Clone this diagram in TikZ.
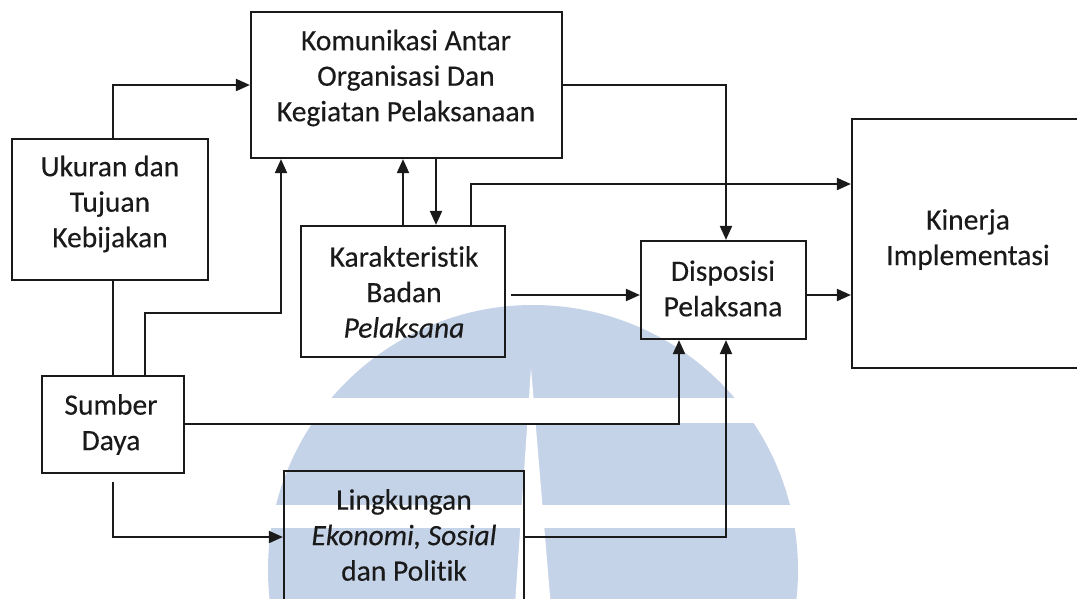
\documentclass[tikz,border=0pt]{standalone}
\usepackage{fontspec}
\setmainfont{Carlito}[Ligatures=NoCommon,FakeBold=0.3]
\usetikzlibrary{arrows.meta}
\definecolor{ink}{HTML}{1A1A1A}
\definecolor{seal}{RGB}{197,211,232}
\begin{document}
\begin{tikzpicture}[x=1pt,y=-1pt,
  box/.style={draw=ink,line width=2.2pt,inner sep=0pt},
  lbl/.style={text=ink,align=center,inner sep=0pt,
    font=\fontsize{29.5}{35.5}\selectfont},
  conn/.style={draw=ink,line width=2pt},
  arr/.style={conn,-{Triangle[length=14pt,width=12pt]}}]
\useasboundingbox (0,0) rectangle (1077,598);
\clip (0,0) rectangle (1077,598);
\fill[white] (0,0) rectangle (1077,598);

% background seal
\fill[seal] (533,570) circle[radius=265];
\fill[white] (200,398) rectangle (860,423);
\fill[white] (200,505) rectangle (860,528);
\fill[white] (531,368) -- (514,620) -- (552,620) -- cycle;

% boxes
\node[box,minimum width=311pt,minimum height=146pt] (komm) at (406.5,85) {};
\node[box,minimum width=196pt,minimum height=141pt] (ukuran) at (110,209.5) {};
\node[box,minimum width=204pt,minimum height=131pt] (karak) at (403,291.5) {};
\node[box,minimum width=165pt,minimum height=98pt] (dispo) at (723.5,290) {};
\node[box,minimum width=240pt,minimum height=249pt] (kinerja) at (972,243.5) {};
\node[box,minimum width=142pt,minimum height=97pt] (sumber) at (113,424.5) {};
\node[box,minimum width=240pt,minimum height=150pt] (lingk) at (404,546) {};

% labels
\node[lbl] (tkomm) at (406,78) {Komunikasi Antar\\Organisasi Dan\\Kegiatan Pelaksanaan};
\node[lbl] (tukuran) at (110,204) {Ukuran dan\\Tujuan\\Kebijakan};
\node[lbl] (tkarak) at (404,292) {Karakteristik\\Badan\\\textit{Pelaksana}};
\node[lbl] (tdispo) at (723,288.5) {Disposisi\\Pelaksana};
\node[lbl] (tkinerja) at (968,239.5) {Kinerja\\Implementasi};
\node[lbl] (tsumber) at (111,424.5) {Sumber\\Daya};
\node[lbl] (tlingk) at (404,535) {Lingkungan\\\textit{Ekonomi, Sosial}\\dan Politik};

% guide positions for the connectors
\coordinate (c1) at (113,0);
\coordinate (c2) at (145,0);
\coordinate (c3) at (281,0);
\coordinate (c4) at (403,0);
\coordinate (c5) at (436,0);
\coordinate (c6) at (471,0);
\coordinate (c7) at (679,0);
\coordinate (c8) at (726,0);
\coordinate (r1) at (0,85);
\coordinate (r2) at (0,184);
\coordinate (r3) at (0,295);
\coordinate (r4) at (0,313);
\coordinate (r5) at (0,424);
\coordinate (r6) at (0,537);

% connectors
\draw[arr] (ukuran.north -| c1) |- (komm.west |- r1);
\draw[arr] (komm.east |- r1) -| (dispo.north -| c8);
\draw[arr] (karak.north -| c4) -- (komm.south -| c4);
\draw[arr] (komm.south -| c5) -- (karak.north -| c5);
\draw[arr] (karak.north -| c6) |- (kinerja.west |- r2);
\draw[arr,shorten <=5pt] (karak.east |- r3) -- (dispo.west |- r3);
\draw[arr] (dispo.east |- r3) -- (kinerja.west |- r3);
\draw[conn] (ukuran.south -| c1) -- (sumber.north -| c1);
\draw[arr] (sumber.north -| c2) |- (r4 -| c3) -- (komm.south -| c3);
\draw[arr] (sumber.east |- r5) -| (dispo.south -| c7);
\draw[arr,shorten <=8pt] (sumber.south -| c1) |- (lingk.west |- r6);
\draw[arr] (lingk.east |- r6) -| (dispo.south -| c8);
\end{tikzpicture}
\end{document}
